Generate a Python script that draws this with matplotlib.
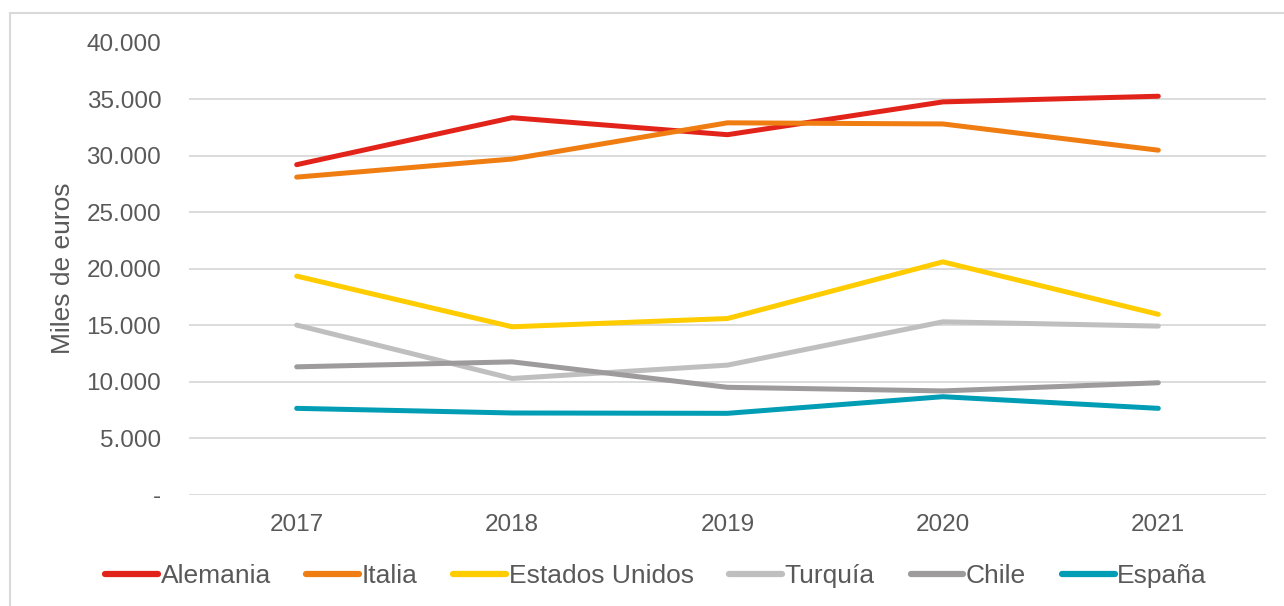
import matplotlib.pyplot as plt
from matplotlib.patches import Rectangle
from matplotlib.ticker import FuncFormatter

plt.rcParams['font.family'] = ['Liberation Sans', 'DejaVu Sans']

years = ['2017', '2018', '2019', '2020', '2021']
alemania = [29200, 33350, 31850, 34750, 35250]
italia = [28100, 29700, 32900, 32800, 30480]
estados_unidos = [19350, 14870, 15600, 20610, 15970]
turquia = [15020, 10300, 11480, 15310, 14930]
chile = [11330, 11770, 9520, 9200, 9920]
espana = [7660, 7250, 7220, 8690, 7660]

series = [
    ('Alemania', alemania, '#E2231A'),
    ('Italia', italia, '#EF7D12'),
    ('Estados Unidos', estados_unidos, '#FFCC00'),
    ('Turquía', turquia, '#C0BFBF'),
    ('Chile', chile, '#9D9B9C'),
    ('España', espana, '#009DB5'),
]

text_color = '#595959'

fig = plt.figure(figsize=(12.84, 6.06), dpi=100)
ax = fig.add_axes([189 / 1284, 1 - 495 / 606, (1266 - 189) / 1284, (495 - 42.5) / 606])

# chart frame (left/top edge visible)
fig.patches.append(Rectangle((10 / 1284, -0.1), 1.2, 1 - 13 / 606 + 0.1,
                             transform=fig.transFigure, fill=False,
                             edgecolor='#D9D9D9', linewidth=1.5))

x = range(len(years))
for name, vals, color in series:
    ax.plot(x, vals, color=color, linewidth=3.6, solid_capstyle='round',
            solid_joinstyle='round', label=name)

ax.set_xlim(-0.5, len(years) - 0.5)
ax.set_ylim(0, 40000)
ax.set_yticks(range(0, 40001, 5000))
ax.yaxis.set_major_formatter(FuncFormatter(
    lambda v, p: '-' if v == 0 else f'{int(v):,}'.replace(',', '.')))
ax.set_xticks(list(x))
ax.set_xticklabels(years)

ax.grid(True, axis='y', color='#D9D9D9', linewidth=1.3)
ax.set_axisbelow(True)
for s in ax.spines.values():
    s.set_visible(False)
ax.tick_params(axis='both', length=0, labelsize=17.5, colors=text_color)
ax.tick_params(axis='y', pad=20)
ax.tick_params(axis='x', pad=14)

ax.set_ylabel('Miles de euros', fontsize=19, color=text_color)
ax.yaxis.set_label_coords((75 - 189) / (1266 - 189), 0.5)

leg = ax.legend(loc='center', bbox_to_anchor=((656 - 189) / (1266 - 189), (495 - 576) / (495 - 42.5)),
                ncol=6, frameon=False, fontsize=19, handlelength=2.0,
                handletextpad=0.1, columnspacing=1.35, labelcolor=text_color)
for line in leg.get_lines():
    line.set_linewidth(4.5)
    line.set_solid_capstyle('round')

fig.savefig('out.png', dpi=100)
